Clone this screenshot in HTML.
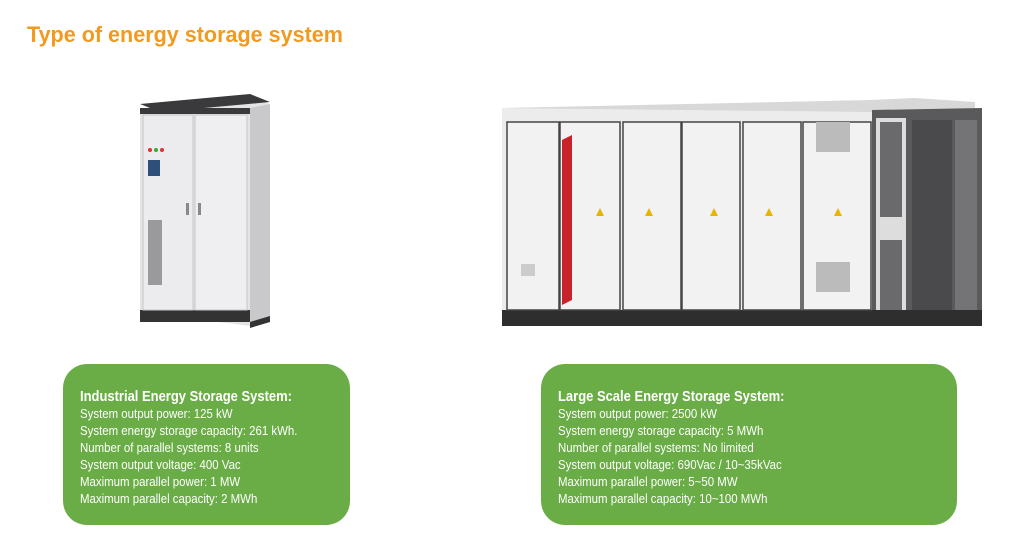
<!DOCTYPE html>
<html><head><meta charset="utf-8"><style>
body{margin:0;width:1024px;height:542px;background:#fff;position:relative;overflow:hidden;font-family:"Liberation Sans",sans-serif}
.t{position:absolute;left:27px;top:22px;color:#f39a1e;font:bold 22px "Liberation Sans",sans-serif;transform:scaleX(0.98);transform-origin:left}
.box{position:absolute;background:#6aad46;border-radius:24px;color:#fff;font-size:12.5px;line-height:17px}
.box .h{font-size:15px;font-weight:bold;display:block;margin-bottom:1px;transform:scaleX(0.865);transform-origin:left;white-space:nowrap}
.box .l{transform:scaleX(0.915);transform-origin:left;white-space:nowrap}
.a{position:absolute}
</style></head><body>
<div class="t">Type of energy storage system</div>

<svg class="a" style="left:0;top:0" width="1024" height="360">
<polygon points="140,110 250,96 270,104 270,318 250,326 140,312" fill="#e4e4e6"/>
<polygon points="140,104 250,94 270,102 160,112" fill="#3a3a3c"/>
<rect x="140" y="108" width="110" height="6" fill="#3a3a3c"/>
<polygon points="250,108 270,104 270,318 250,326" fill="#c9c9cc"/>
<rect x="140" y="310" width="110" height="12" fill="#333"/>
<polygon points="250,322 270,316 270,322 250,328" fill="#333"/>
<rect x="143" y="115" width="50" height="195" fill="#ececee" stroke="#c6c6c8"/>
<rect x="195" y="115" width="52" height="195" fill="#efeff1" stroke="#c6c6c8"/>
<rect x="148" y="220" width="14" height="65" fill="#9a9a9c"/>
<rect x="148" y="160" width="12" height="16" fill="#2d4f7a"/>
<circle cx="150" cy="150" r="2" fill="#d33"/><circle cx="156" cy="150" r="2" fill="#3a3"/><circle cx="162" cy="150" r="2" fill="#d33"/>
<rect x="186" y="203" width="3" height="12" fill="#888"/><rect x="198" y="203" width="3" height="12" fill="#888"/>
<rect x="502" y="108" width="370" height="210" fill="#ececec"/>
<polygon points="502,108 870,100 915,98 975,102 975,110 872,112" fill="#d8d8d8"/>
<polygon points="872,110 982,108 982,322 872,326" fill="#5a5a5c"/>
<rect x="876" y="118" width="30" height="200" fill="#ddd"/>
<rect x="880" y="122" width="22" height="95" fill="#6a6a6c"/><rect x="880" y="240" width="22" height="72" fill="#6a6a6c"/>
<rect x="912" y="120" width="40" height="195" fill="#4a4a4c"/>
<rect x="955" y="120" width="22" height="195" fill="#747476"/>
<rect x="502" y="310" width="480" height="16" fill="#2e2e2e"/>
<g fill="#f2f2f2" stroke="#444" stroke-width="1.5">
<rect x="507" y="122" width="52" height="188"/><rect x="560" y="122" width="60" height="188"/>
<rect x="623" y="122" width="58" height="188"/><rect x="682" y="122" width="58" height="188"/>
<rect x="743" y="122" width="58" height="188"/><rect x="803" y="122" width="68" height="188"/>
</g>
<polygon points="562,140 572,135 572,300 562,305" fill="#c8232b"/>
<rect x="816" y="122" width="34" height="30" fill="#bbb"/><rect x="816" y="262" width="34" height="30" fill="#bbb"/>
<g fill="#e7b400"><polygon points="596,216 600,208 604,216"/><polygon points="645,216 649,208 653,216"/><polygon points="710,216 714,208 718,216"/><polygon points="765,216 769,208 773,216"/><polygon points="834,216 838,208 842,216"/></g>
<rect x="521" y="264" width="14" height="12" fill="#ccc"/>
</svg>

<div class="box" style="left:63px;top:364px;width:270px;height:137px;padding:24px 0 0 17px">
<span class="h">Industrial Energy Storage System:</span>
<div class="l">System output power: 125 kW<br>System energy storage capacity: 261 kWh.<br>Number of parallel systems: 8 units<br>System output voltage: 400 Vac<br>Maximum parallel power: 1 MW<br>Maximum parallel capacity: 2 MWh</div>
</div>
<div class="box" style="left:541px;top:364px;width:399px;height:137px;padding:24px 0 0 17px">
<span class="h">Large Scale Energy Storage System:</span>
<div class="l">System output power: 2500 kW<br>System energy storage capacity: 5 MWh<br>Number of parallel systems: No limited<br>System output voltage: 690Vac / 10~35kVac<br>Maximum parallel power: 5~50 MW<br>Maximum parallel capacity: 10~100 MWh</div>
</div>
</body></html>
